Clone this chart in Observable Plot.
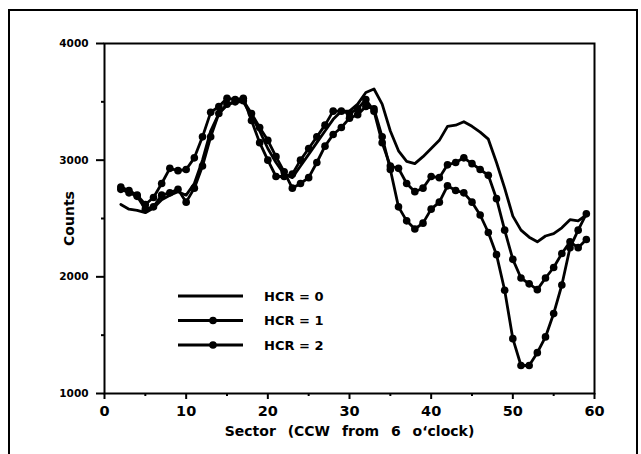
<!DOCTYPE html>
<html>
<head>
<meta charset="utf-8">
<script src="https://cdn.jsdelivr.net/npm/d3@7"></script>
<script src="https://cdn.jsdelivr.net/npm/@observablehq/plot@0.6"></script>
<style>
  html, body { margin: 0; padding: 0; background: #fff; }
  #wrap { position: relative; width: 641px; height: 454px; overflow: hidden; }
  #border { position: absolute; left: 8px; top: 9px; width: 626px; height: 470px; border: 2px solid #000; pointer-events: none; }
  #legend { position: absolute; left: 0; top: 0; }
  g[aria-label="x-axis label"] text { word-spacing: 7px; }
</style>
</head>
<body>
<div id="wrap">
  <div id="chart"></div>
  <div id="border"></div>
  <svg id="legend" width="641" height="454"></svg>
</div>
<script>
const sectors = [2,3,4,5,6,7,8,9,10,11,12,13,14,15,16,17,18,19,20,21,22,23,24,25,26,27,28,29,30,31,32,33,34,35,36,37,38,39,40,41,42,43,44,45,46,47,48,49,50,51,52,53,54,55,56,57,58,59];
const hcr0 = [2620,2580,2570,2550,2590,2660,2700,2730,2700,2800,3000,3250,3400,3470,3500,3500,3380,3250,3100,2980,2880,2850,2950,3050,3150,3250,3350,3420,3420,3480,3580,3610,3480,3250,3080,2990,2970,3030,3100,3170,3290,3300,3330,3290,3240,3180,2980,2760,2520,2400,2340,2300,2350,2370,2420,2490,2480,2530];
const hcr1 = [2770,2740,2700,2620,2680,2800,2930,2910,2920,3020,3200,3410,3460,3530,3520,3530,3340,3150,3000,2860,2860,2880,3000,3100,3200,3300,3420,3420,3400,3440,3520,3420,3150,2950,2930,2800,2730,2760,2860,2850,2960,2980,3020,2970,2920,2870,2670,2400,2150,1990,1940,1890,1990,2080,2200,2300,2250,2320];
const hcr2 = [2750,2720,2690,2580,2600,2700,2720,2750,2640,2760,2950,3200,3400,3480,3500,3510,3400,3280,3170,3030,2900,2760,2800,2850,2980,3120,3220,3280,3360,3390,3460,3440,3200,2920,2600,2480,2410,2460,2580,2640,2780,2740,2720,2640,2530,2380,2190,1885,1470,1240,1240,1350,1485,1685,1930,2250,2400,2540];
const seriesNames = ["HCR = 0", "HCR = 1", "HCR = 2"];
const seriesMarkers = [false, true, true];
const xMajorTicks = [0,10,20,30,40,50,60];
const xMinorTicks = [5,15,25,35,45,55];
const yMajorTicks = [1000,2000,3000,4000];
const yMinorTicks = [1500,2500,3500];
const xLabel = "Sector (CCW from 6 o\u2018clock)";
const yLabel = "Counts";

const seriesValues = [hcr0, hcr1, hcr2];
const rows = [];
seriesValues.forEach((vals, i) => {
  vals.forEach((v, j) => rows.push({series: seriesNames[i], sector: sectors[j], count: v, marker: seriesMarkers[i]}));
});

const font = "DejaVu Sans";
const chart = Plot.plot({
  width: 641,
  height: 454,
  marginLeft: 104,
  marginRight: 47,
  marginTop: 43,
  marginBottom: 61,
  style: {fontFamily: font, fontWeight: "bold", color: "#000", background: "#fff"},
  x: {domain: [0, 60]},
  y: {domain: [1000, 4000]},
  marks: [
    Plot.frame({stroke: "#000", strokeWidth: 2}),
    Plot.axisX(xMinorTicks, {tickSize: 3, tickFormat: () => "", strokeWidth: 2, label: null}),
    Plot.axisX(xMajorTicks, {tickSize: 6, tickPadding: 6, strokeWidth: 2, tickFormat: d => String(d),
      label: xLabel, labelAnchor: "center", labelArrow: "none", labelOffset: 42}),
    Plot.axisY(yMinorTicks, {tickSize: 3, tickFormat: () => "", strokeWidth: 2, label: null}),
    Plot.axisY(yMajorTicks, {tickSize: 8, tickPadding: 8, strokeWidth: 2, tickFormat: d => String(d),
      label: yLabel, labelAnchor: "center", labelArrow: "none", labelOffset: 40}),
    Plot.line(rows, {x: "sector", y: "count", z: "series", stroke: "#000", strokeWidth: 2.8, curve: "linear"}),
    Plot.dot(rows.filter(d => d.marker), {x: "sector", y: "count", r: 3.8, fill: "#000", stroke: "none"})
  ]
});
const setFont = (sel, size) => chart.querySelectorAll(sel).forEach(g => {
  g.setAttribute("font-size", size);
  g.style.fontSize = size + "px";
  g.setAttribute("font-weight", "bold");
  g.querySelectorAll("text").forEach(t => { t.style.fontSize = size + "px"; t.style.fontWeight = "bold"; });
});
setFont('g[aria-label="x-axis tick label"]', 14.5);
setFont('g[aria-label="y-axis tick label"]', 10.5);
setFont('g[aria-label="x-axis label"]', 14);
setFont('g[aria-label="y-axis label"]', 14);
document.getElementById("chart").appendChild(chart);

// legend
const leg = d3.select("#legend");
const rowY = [296, 320.5, 345];
seriesNames.forEach((name, i) => {
  const g = leg.append("g").attr("transform", `translate(0,${rowY[i]})`);
  g.append("line").attr("x1", 178).attr("x2", 243).attr("y1", 0).attr("y2", 0).attr("stroke", "#000").attr("stroke-width", 2.8);
  if (seriesMarkers[i]) g.append("circle").attr("cx", 213).attr("cy", 0).attr("r", 3.8).attr("fill", "#000");
  g.append("text").attr("x", 264).attr("y", 0).attr("dy", "0.36em").attr("font-family", font).attr("font-weight", "bold").attr("font-size", 13).text(name);
});
</script>
</body>
</html>
